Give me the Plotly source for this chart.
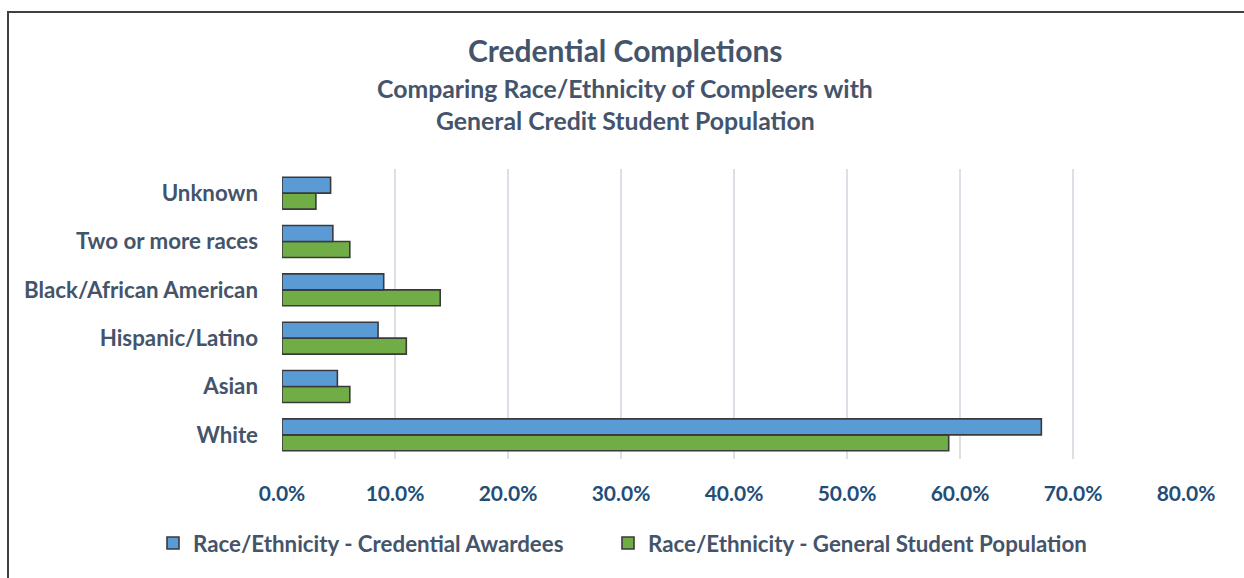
import plotly.graph_objects as go

# Race/ethnicity groups, listed bottom to top on the category axis
categories = ["White", "Asian", "Hispanic/Latino", "Black/African American",
              "Two or more races", "Unknown"]
# Shares in percent
awardees = [67.2, 4.9, 8.5, 9.0, 4.5, 4.3]
population = [59.0, 6.0, 11.0, 14.0, 6.0, 3.0]
x_ticks = [0, 10, 20, 30, 40, 50, 60, 70, 80]
x_tick_labels = [f"{v:.1f}%" for v in x_ticks]

W, H = 1244, 578
ML, MR, MT, MB = 282, 58, 169, 119
PW = W - ML - MR
PH = H - MT - MB


def px_x(px):
    return (px - ML) / PW


def px_y(py):
    return (H - MB - py) / PH


TITLE_COLOR = "#44546A"
TICK_COLOR = "#1F4E79"
FONT = "Lato"
BORDER = "#3A3A3A"

fig = go.Figure()
fig.add_trace(go.Bar(
    y=categories, x=population, orientation="h",
    name="Race/Ethnicity - General Student Population",
    marker=dict(color="#70AD47", line=dict(color=BORDER, width=1.6)),
    legend="legend2",
))
fig.add_trace(go.Bar(
    y=categories, x=awardees, orientation="h",
    name="Race/Ethnicity - Credential Awardees",
    marker=dict(color="#5B9BD5", line=dict(color=BORDER, width=1.6)),
    legend="legend",
))

annotations = [
    dict(text="<b>Credential Completions</b>", x=px_x(625), y=px_y(50),
         font=dict(size=30, color=TITLE_COLOR, family=FONT)),
    dict(text="<b>Comparing Race/Ethnicity of Compleers with</b>", x=px_x(625), y=px_y(88),
         font=dict(size=24.8, color=TITLE_COLOR, family=FONT)),
    dict(text="<b>General Credit Student Population</b>", x=px_x(625), y=px_y(120),
         font=dict(size=24.8, color=TITLE_COLOR, family=FONT)),
]
for a in annotations:
    a.update(xref="paper", yref="paper", showarrow=False,
             xanchor="center", yanchor="middle")

# Outer chart border (top and left edges)
shapes = [
    dict(type="line", xref="paper", yref="paper",
         x0=px_x(7), x1=px_x(W + 10), y0=px_y(12), y1=px_y(12),
         line=dict(color="#404040", width=2)),
    dict(type="line", xref="paper", yref="paper",
         x0=px_x(8), x1=px_x(8), y0=px_y(12), y1=px_y(H + 10),
         line=dict(color="#404040", width=2)),
]

legend_font = dict(size=22.3, color=TITLE_COLOR, family=FONT, weight="bold")

fig.update_layout(
    width=W, height=H,
    margin=dict(l=ML, r=MR, t=MT, b=MB, pad=0),
    paper_bgcolor="white", plot_bgcolor="white",
    barmode="group", bargap=0.34, bargroupgap=0,
    font=dict(family=FONT, color=TITLE_COLOR),
    annotations=annotations,
    shapes=shapes,
    showlegend=True,
    legend=dict(orientation="h", x=px_x(153), y=px_y(543),
                xanchor="left", yanchor="middle",
                font=legend_font, itemwidth=30),
    legend2=dict(orientation="h", x=px_x(608), y=px_y(543),
                 xanchor="left", yanchor="middle",
                 font=legend_font, itemwidth=30),
    xaxis=dict(range=[0, 80], tickvals=x_ticks, ticktext=x_tick_labels,
               showgrid=True, gridcolor="#DCE0E6", gridwidth=2,
               zeroline=False, showline=False, ticks="",
               tickfont=dict(size=21, color=TICK_COLOR, family=FONT, weight="bold"),
               ticklabelstandoff=20, fixedrange=True),
    yaxis=dict(showgrid=False, zeroline=False, showline=False, ticks="",
               tickfont=dict(size=22.3, color=TITLE_COLOR, family=FONT, weight="bold"),
               ticklabelstandoff=23, fixedrange=True),
)

fig.write_html("out.html")
